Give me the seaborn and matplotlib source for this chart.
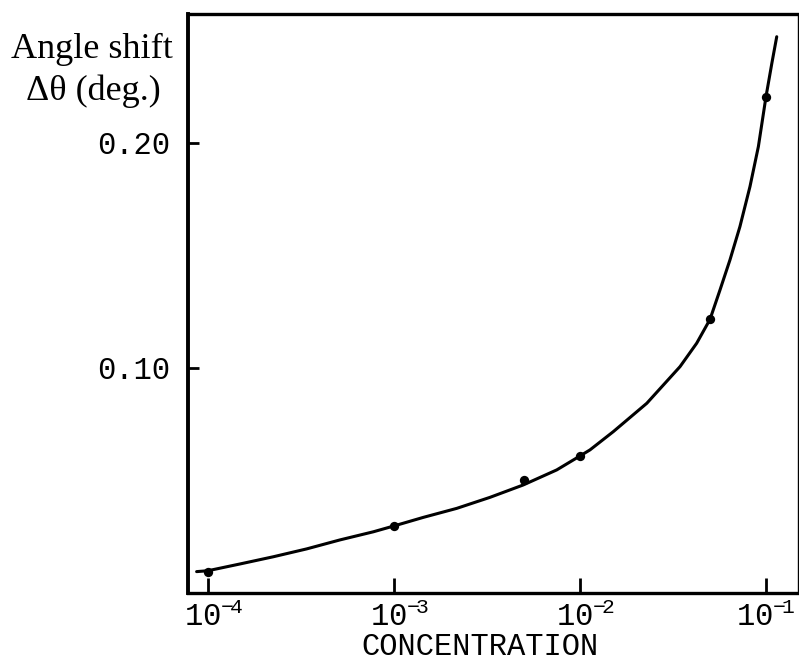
import matplotlib
matplotlib.use("Agg")
import matplotlib.pyplot as plt
import matplotlib.transforms as mtransforms
import seaborn as sns
import pandas as pd

# measured points
conc_points = [1e-4, 1e-3, 5e-3, 1e-2, 5e-2, 1e-1]
shift_points = [0.0095, 0.0298, 0.0502, 0.0609, 0.1216, 0.2206]

# smooth curve
conc_curve = [8.69e-5, 1.0e-4, 1.486e-4, 2.244e-4, 3.394e-4, 5.128e-4, 7.745e-4,
              1.0e-3, 1.437e-3, 2.173e-3, 3.28e-3, 4.95e-3, 7.5e-3, 1.0e-2,
              1.132e-2, 1.51e-2, 2.286e-2, 3.45e-2, 4.24e-2, 5.0e-2, 5.66e-2,
              6.40e-2, 7.24e-2, 8.20e-2, 9.10e-2, 1.0e-1, 1.075e-1, 1.142e-1]
shift_curve = [0.0095, 0.0099, 0.0129, 0.0161, 0.0196, 0.0236, 0.0272,
               0.0298, 0.0336, 0.0376, 0.0425, 0.0480, 0.0547, 0.0609,
               0.0636, 0.0717, 0.0843, 0.1006, 0.1110, 0.1216, 0.1347,
               0.1480, 0.1628, 0.1806, 0.1984, 0.2206, 0.2354, 0.2472]

xtick_vals = [1e-4, 1e-3, 1e-2, 1e-1]
xtick_labels = [r"$\mathregular{10^{-\!\!4}}$", r"$\mathregular{10^{-\!\!3}}$",
                r"$\mathregular{10^{-\!\!2}}$", r"$\mathregular{10^{-\!\!1}}$"]
ytick_vals = [0.10, 0.20]
ytick_labels = ["0.10", "0.20"]

sns.set_style("ticks")
plt.rcParams["font.family"] = ["Liberation Mono", "DejaVu Sans"]
plt.rcParams["mathtext.fontset"] = "custom"
plt.rcParams["mathtext.rm"] = "Liberation Mono"
plt.rcParams["mathtext.it"] = "Liberation Mono"
plt.rcParams["mathtext.bf"] = "Liberation Mono"
plt.rcParams["mathtext.sf"] = "Liberation Mono"
for k in ["text.color", "axes.labelcolor", "xtick.color", "ytick.color", "axes.edgecolor"]:
    plt.rcParams[k] = "black"

fig = plt.figure(figsize=(7.99, 6.62), dpi=100)
ax = fig.add_axes([188 / 799, 69 / 662, 610 / 799, 579 / 662])

curve_df = pd.DataFrame({"conc": conc_curve, "shift": shift_curve})
pts_df = pd.DataFrame({"conc": conc_points, "shift": shift_points})

sns.lineplot(data=curve_df, x="conc", y="shift", ax=ax, color="black",
             linewidth=2.2, sort=True, estimator=None)
sns.scatterplot(data=pts_df, x="conc", y="shift", ax=ax, color="black",
                s=45, edgecolor="black", linewidth=0, zorder=5)

ax.set_xscale("log")
ax.set_xlim(7.81e-5, 0.1486)
ax.set_ylim(0, 0.2573)

ax.set_xticks(xtick_vals)
ax.set_xticklabels(xtick_labels, fontsize=22)
ax.minorticks_off()
ax.set_yticks(ytick_vals)
ax.set_yticklabels(ytick_labels, fontsize=22)

ax.tick_params(axis="x", direction="in", length=11, width=2, pad=7)
ax.tick_params(axis="y", direction="in", length=8, width=2, pad=13)

labs = ax.get_xticklabels()
for i, lab in enumerate(labs):
    dx = 4 if i < len(labs) - 1 else 0
    lab.set_transform(lab.get_transform() +
                      mtransforms.ScaledTranslation(dx / 72, 0, fig.dpi_scale_trans))

for side, lw in [("left", 2.8), ("bottom", 2.4), ("top", 2.4), ("right", 1.0)]:
    ax.spines[side].set_linewidth(lw)
    ax.spines[side].set_color("black")

ax.set_xlabel("CONCENTRATION", fontsize=22)
ax.xaxis.set_label_coords(0.479, -0.068)
ax.set_ylabel("")

fig.text(92 / 799, 1 - 58 / 662, "Angle shift", ha="center", va="baseline",
         fontsize=26, family=["Liberation Serif", "DejaVu Serif"])
fig.text(93 / 799, 1 - 100 / 662, "Δθ (deg.)", ha="center", va="baseline",
         fontsize=26, family=["Liberation Serif", "DejaVu Serif"])

fig.savefig("out.png", dpi=100, facecolor="white")
